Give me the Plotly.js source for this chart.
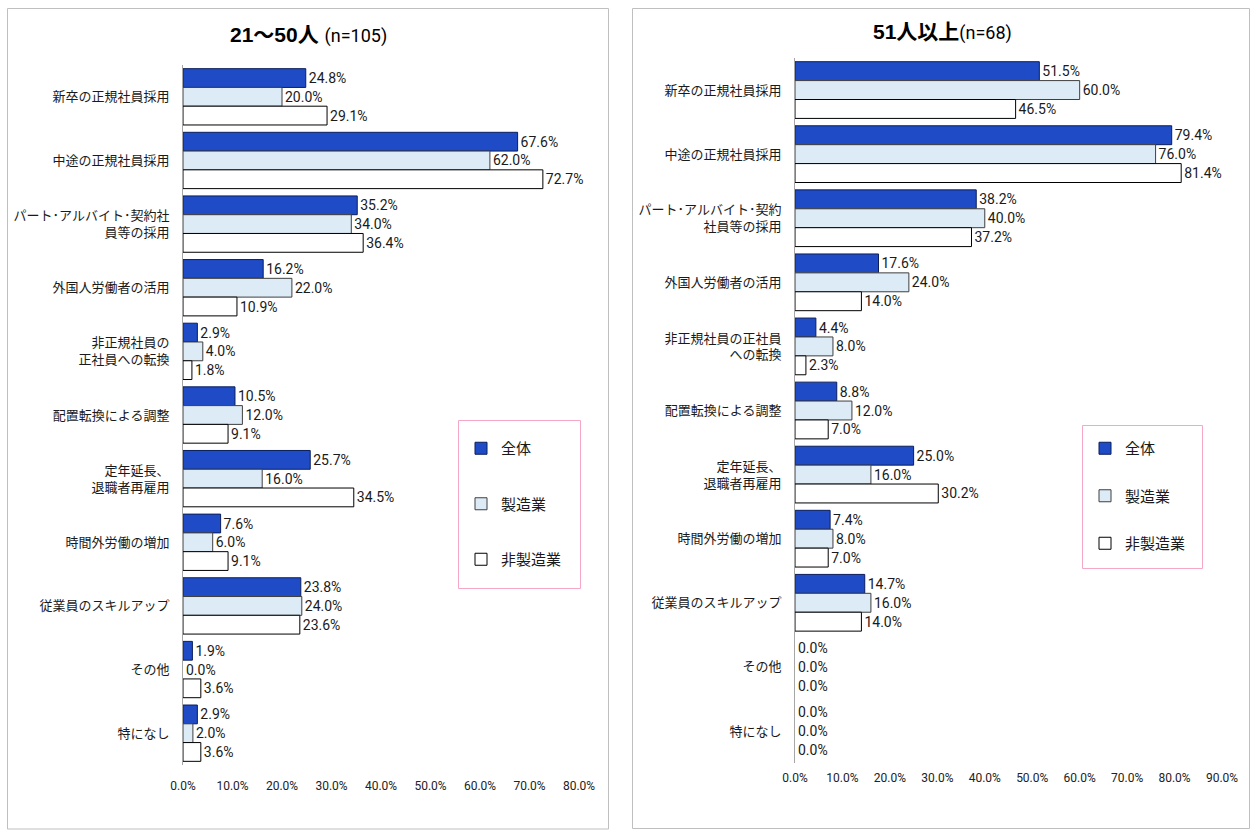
<!DOCTYPE html>
<html>
<head>
<meta charset="utf-8">
<script src="https://cdn.plot.ly/plotly-3.0.1.min.js"></script>
<style>
  html, body { margin: 0; padding: 0; background: #ffffff; }
  #chart { width: 1255px; height: 830px; }
</style>
</head>
<body>
<div id="chart"></div>
<script>
// ---- Data ----
const categoriesLeft = [
  '新卒の正規社員採用',
  '中途の正規社員採用',
  'パート･アルバイト･契約社<br>員等の採用',
  '外国人労働者の活用',
  '非正規社員の<br>正社員への転換',
  '配置転換による調整',
  '定年延長、<br>退職者再雇用',
  '時間外労働の増加',
  '従業員のスキルアップ',
  'その他',
  '特になし'
];
const categoriesRight = [
  '新卒の正規社員採用',
  '中途の正規社員採用',
  'パート･アルバイト･契約<br>社員等の採用',
  '外国人労働者の活用',
  '非正規社員の正社員<br>への転換',
  '配置転換による調整',
  '定年延長、<br>退職者再雇用',
  '時間外労働の増加',
  '従業員のスキルアップ',
  'その他',
  '特になし'
];
const seriesNames = ['全体', '製造業', '非製造業'];

// 21～50人 (n=105)
const leftAll     = [24.8, 67.6, 35.2, 16.2, 2.9, 10.5, 25.7, 7.6, 23.8, 1.9, 2.9];
const leftMfg     = [20.0, 62.0, 34.0, 22.0, 4.0, 12.0, 16.0, 6.0, 24.0, 0.0, 2.0];
const leftNonMfg  = [29.1, 72.7, 36.4, 10.9, 1.8, 9.1, 34.5, 9.1, 23.6, 3.6, 3.6];

// 51人以上 (n=68)
const rightAll    = [51.5, 79.4, 38.2, 17.6, 4.4, 8.8, 25.0, 7.4, 14.7, 0.0, 0.0];
const rightMfg    = [60.0, 76.0, 40.0, 24.0, 8.0, 12.0, 16.0, 8.0, 16.0, 0.0, 0.0];
const rightNonMfg = [46.5, 81.4, 37.2, 14.0, 2.3, 7.0, 30.2, 7.0, 14.0, 0.0, 0.0];

const leftTickVals  = [0, 10, 20, 30, 40, 50, 60, 70, 80];
const rightTickVals = [0, 10, 20, 30, 40, 50, 60, 70, 80, 90];

// ---- Styles ----
const W = 1255, H = 830;
const px = v => v / W;
const py = v => 1 - v / H;

const fills   = ['#1F4CC6', '#DDEBF7', '#FFFFFF'];
const borders = ['#0B1E5B', '#3F3F3F', '#000000'];
const labelFont = { family: 'Roboto, "Noto Sans", sans-serif', size: 14, color: '#1a1a1a' };
const catFont   = { family: '"Noto Sans CJK JP", sans-serif', size: 13, color: '#1a1a1a' };
const tickFont  = { family: 'Roboto, "Noto Sans", sans-serif', size: 12, color: '#222222' };

const leftSeries  = [leftAll, leftMfg, leftNonMfg];
const rightSeries = [rightAll, rightMfg, rightNonMfg];

function barTrace(name, i, cats, vals, xa, ya, leg, grp) {
  return {
    type: 'bar', orientation: 'h',
    name: name,
    y: cats, x: vals,
    xaxis: xa, yaxis: ya,
    legend: leg, legendgroup: grp,
    marker: {
      color: fills[i],
      line: { color: borders[i], width: vals.map(v => (v > 0 ? 1 : 0)) }
    },
    texttemplate: '%{x:.1f}%', textposition: 'outside',
    textfont: labelFont, cliponaxis: false, constraintext: 'none',
    hoverinfo: 'x+y+name'
  };
}

const traces = [];
seriesNames.forEach((name, i) => {
  traces.push(barTrace(name, i, categoriesLeft, leftSeries[i], 'x', 'y', 'legend', 'L' + i));
});
seriesNames.forEach((name, i) => {
  traces.push(barTrace(name, i, categoriesRight, rightSeries[i], 'x2', 'y2', 'legend2', 'R' + i));
});

const xCommon = {
  showgrid: false, zeroline: false, showline: false,
  ticks: 'outside', tickcolor: 'rgba(0,0,0,0)',
  tickfont: tickFont, fixedrange: true
};
const yCommon = {
  type: 'category', autorange: 'reversed',
  showgrid: false, zeroline: false,
  showline: true, linecolor: '#A6A6A6', linewidth: 1,
  ticks: 'outside', ticklen: 10, tickcolor: 'rgba(0,0,0,0)',
  tickfont: catFont, fixedrange: true
};

const legendFont = { family: '"Noto Sans CJK JP", sans-serif', size: 15, color: '#1a1a1a' };

const layout = {
  width: W, height: H,
  margin: { l: 0, r: 0, t: 0, b: 0 },
  paper_bgcolor: '#FFFFFF', plot_bgcolor: 'rgba(0,0,0,0)',
  barmode: 'group', bargap: 0.115, bargroupgap: 0,
  font: { family: '"Noto Sans CJK JP", sans-serif', color: '#1a1a1a' },
  xaxis: Object.assign({}, xCommon, {
    domain: [px(183), px(579)], range: [0, 80], anchor: 'y',
    tickvals: leftTickVals, ticktext: leftTickVals.map(v => v.toFixed(1) + '%'),
    ticklen: 10
  }),
  yaxis: Object.assign({}, yCommon, {
    domain: [py(765), py(65)], anchor: 'x'
  }),
  xaxis2: Object.assign({}, xCommon, {
    domain: [px(795), px(1222)], range: [0, 90], anchor: 'y2',
    tickvals: rightTickVals, ticktext: rightTickVals.map(v => v.toFixed(1) + '%'),
    ticklen: 4
  }),
  yaxis2: Object.assign({}, yCommon, {
    domain: [py(763), py(58)], anchor: 'x2'
  }),
  legend: {
    x: px(461), y: py(432), xanchor: 'left', yanchor: 'top',
    bgcolor: 'rgba(0,0,0,0)', borderwidth: 0,
    font: legendFont, tracegroupgap: 33, traceorder: 'grouped'
  },
  legend2: {
    x: px(1085), y: py(432), xanchor: 'left', yanchor: 'top',
    bgcolor: 'rgba(0,0,0,0)', borderwidth: 0,
    font: legendFont, tracegroupgap: 25, traceorder: 'grouped'
  },
  shapes: [
    // panel frames
    { type: 'rect', xref: 'paper', yref: 'paper', x0: px(7.5), x1: px(608.5), y0: py(829), y1: py(8.5),
      line: { color: '#BFBFBF', width: 1 }, fillcolor: 'rgba(0,0,0,0)', layer: 'below' },
    { type: 'rect', xref: 'paper', yref: 'paper', x0: px(632.5), x1: px(1249.5), y0: py(828.5), y1: py(8.5),
      line: { color: '#BFBFBF', width: 1 }, fillcolor: 'rgba(0,0,0,0)', layer: 'below' },
    // legend frames
    { type: 'rect', xref: 'paper', yref: 'paper', x0: px(458.5), x1: px(580.5), y0: py(588.5), y1: py(420.5),
      line: { color: '#F4A7C7', width: 1 }, fillcolor: '#FFFFFF', layer: 'below' },
    { type: 'rect', xref: 'paper', yref: 'paper', x0: px(1082.5), x1: px(1202.5), y0: py(568.5), y1: py(425.5),
      line: { color: '#F4A7C7', width: 1 }, fillcolor: '#FFFFFF', layer: 'below' }
  ],
  annotations: [
    { xref: 'paper', yref: 'paper', x: px(308), y: py(35), xanchor: 'center', yanchor: 'middle',
      showarrow: false,
      text: '<b>21～50人</b> <span style="font-size:18px;font-family:Roboto">(n=105)</span>',
      font: { family: '"Liberation Sans", "Noto Sans CJK JP", sans-serif', size: 21, color: '#000000' } },
    { xref: 'paper', yref: 'paper', x: px(942), y: py(32), xanchor: 'center', yanchor: 'middle',
      showarrow: false,
      text: '<b>51人以上</b><span style="font-size:18px;font-family:Roboto">(n=68)</span>',
      font: { family: '"Liberation Sans", "Noto Sans CJK JP", sans-serif', size: 21, color: '#000000' } }
  ]
};

Plotly.newPlot('chart', traces, layout, { displayModeBar: false, staticPlot: true });
</script>
</body>
</html>
